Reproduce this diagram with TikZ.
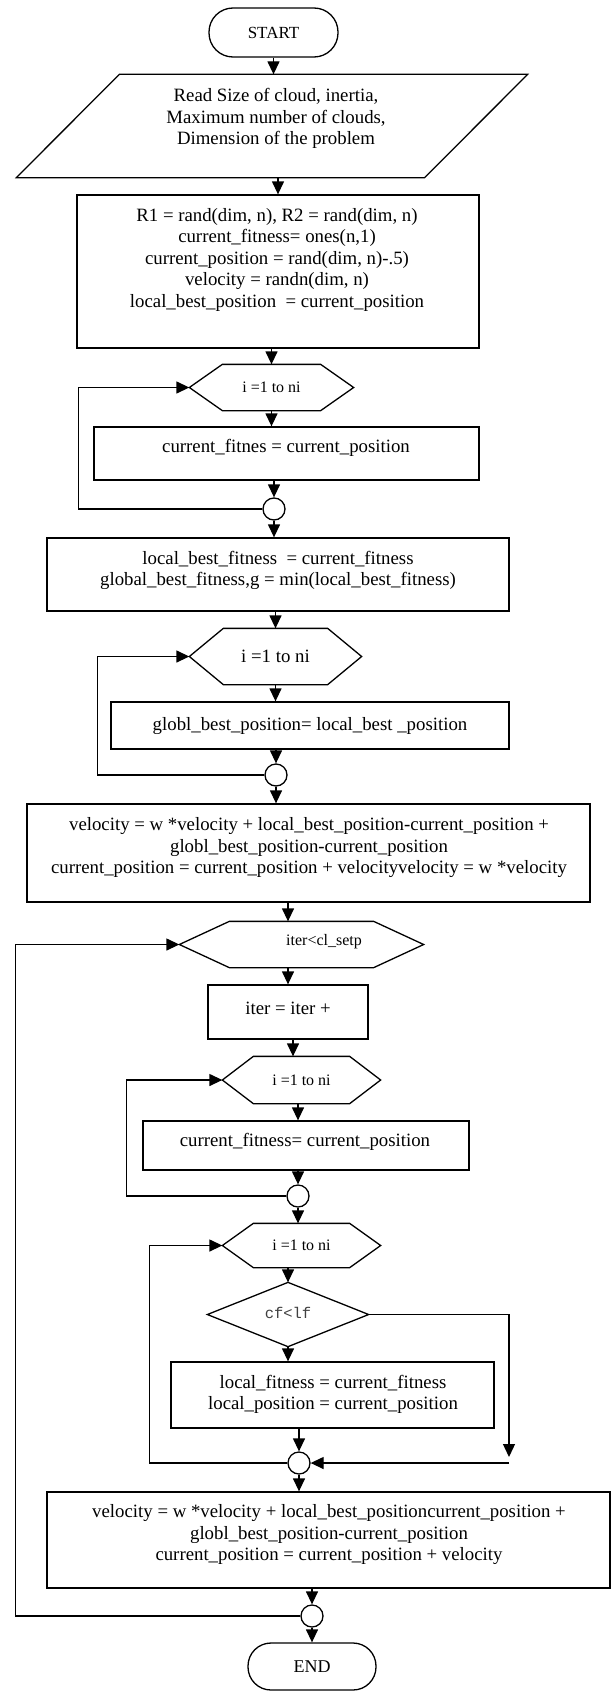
\documentclass[tikz,border=0pt]{standalone}
\usepackage{fontspec}
\setmainfont{Liberation Serif}
\newfontfamily\codefont{Liberation Mono}
\usetikzlibrary{arrows.meta,calc}
\newcommand\hexdraw[2]{\draw (#1.west) -- ([xshift=#2]#1.north west) -- ([xshift=-#2]#1.north east) -- (#1.east) -- ([xshift=-#2]#1.south east) -- ([xshift=#2]#1.south west) -- cycle;}
\begin{document}
\begin{tikzpicture}[x=1pt,y=-1pt,
  line width=1.3pt,
  box/.style={draw, rectangle, inner sep=0pt},
  ghost/.style={inner sep=0pt},
  conn/.style={draw, circle, inner sep=0pt, minimum size=22pt},
  arr/.style={-{Triangle[length=13pt,width=12pt]}},
  txt/.style={font=\fontsize{18.8}{21.5}\selectfont, align=center, inner sep=0pt},
  small/.style={font=\fontsize{16}{19}\selectfont},
]
\useasboundingbox (0,0) rectangle (613,1691);

% start
\node[draw, rounded corners=24pt, minimum width=129pt, minimum height=49pt, inner sep=0pt, font=\fontsize{17}{20}\selectfont] (start) at (273.5,32.5) {START};

% parallelogram
\node[ghost, minimum width=510pt, minimum height=102pt] (para) at (272,126) {};
\draw ([xshift=103pt]para.north west) -- (para.north east) -- ([xshift=-103pt]para.south east) -- (para.south west) -- cycle;
\node[txt] (tp) at (276,118.5) {Read Size of cloud, inertia,\\Maximum number of clouds,\\Dimension of the problem};

% box1
\node[box, minimum width=402pt, minimum height=153pt] (b1) at (278,271.5) {};
\node[txt] (t1) at (277,259.5) {R1 = rand(dim, n), R2 = rand(dim, n)\\current\_fitness= ones(n,1)\\current\_position = rand(dim, n)-.5)\\velocity = randn(dim, n)\\local\_best\_position\ \ = current\_position};

% hex1
\node[ghost, small, minimum width=163pt, minimum height=45pt] (h1) at (271.5,387.5) {i =1 to ni};
\hexdraw{h1}{33pt}

% box2
\node[box, minimum width=385pt, minimum height=53pt] (b2) at (286.5,453.5) {};
\node[txt] (t2) at (286,448) {current\_fitnes = current\_position};

\node[conn] (c1) at (274,509) {};

% box3
\node[box, minimum width=462pt, minimum height=73pt] (b3) at (278,574.5) {};
\node[txt] (t3) at (278,570.5) {local\_best\_fitness\ \ = current\_fitness\\global\_best\_fitness,g = min(local\_best\_fitness)};

% hex2
\node[ghost, txt, minimum width=171pt, minimum height=55pt] (h2) at (275.5,656.5) {i =1 to ni};
\hexdraw{h2}{34pt}

% box4
\node[box, minimum width=398pt, minimum height=47pt] (b4) at (310,725.5) {};
\node[txt] (t4) at (310,726) {globl\_best\_position= local\_best \_position};

\node[conn] (c2) at (276,775) {};

% box5
\node[box, minimum width=563pt, minimum height=98pt] (b5) at (308.5,853) {};
\node[txt] (t5) at (309,847.5) {velocity = w *velocity + local\_best\_position-current\_position +\\globl\_best\_position-current\_position\\current\_position = current\_position + velocityvelocity = w *velocity};

% hex3
\node[ghost, minimum width=243pt, minimum height=45pt] (h3) at (301.5,944.5) {};
\hexdraw{h3}{50pt}
\node[small, inner sep=0pt] (th3) at (324,942) {iter<cl\_setp};

% box6
\node[box, minimum width=160pt, minimum height=54pt] (b6) at (288,1012) {};
\node[txt] (t6) at (288,1008) {iter = iter +};

% hex4
\node[ghost, small, minimum width=157pt, minimum height=46pt] (h4) at (301.5,1080) {i =1 to ni};
\hexdraw{h4}{31pt}

% box7
\node[box, minimum width=326pt, minimum height=49pt] (b7) at (306,1145.5) {};
\node[txt] (t7) at (305,1142) {current\_fitness= current\_position};

\node[conn] (c3) at (298,1196) {};

% hex5
\node[ghost, small, minimum width=157pt, minimum height=43pt] (h5) at (301.5,1245.5) {i =1 to ni};
\hexdraw{h5}{31pt}

% diamond
\node[ghost, minimum width=160pt, minimum height=63pt] (d) at (288,1314.5) {};
\draw (d.west) -- (d.north) -- (d.east) -- (d.south) -- cycle;
\node[inner sep=0pt, font=\codefont\fontsize{15.5}{18}\selectfont, text=black!75] (td) at (288,1313) {cf<lf};

% box8
\node[box, minimum width=323pt, minimum height=66pt] (b8) at (332.5,1395) {};
\node[txt] (t8) at (333,1394.5) {local\_fitness = current\_fitness\\local\_position = current\_position};

\node[conn] (c4) at (299,1463) {};

% box9
\node[box, minimum width=563pt, minimum height=96pt] (b9) at (328.5,1540) {};
\node[txt] (t9) at (329,1534.5) {velocity = w *velocity + local\_best\_positioncurrent\_position +\\globl\_best\_position-current\_position\\current\_position = current\_position + velocity};

\node[conn] (c5) at (312,1616) {};

% end
\node[draw, rounded corners=23pt, minimum width=128pt, minimum height=47pt, inner sep=0pt, font=\fontsize{18}{21}\selectfont] (end) at (312,1666.5) {END};

\coordinate (rc) at (509,1457);

% connectors
\draw[arr] (start.south) -- (start.south |- para.north);
\draw[arr] (b1.north |- para.south) -- (b1.north);
\draw[arr] (h1.north |- b1.south) -- (h1.north);
\draw[arr] (h1.south) -- (h1.south |- b2.north);
\draw[arr] (c1 |- b2.south) -- (c1.north);
\draw[arr] (c1.west) -| ([xshift=-111pt]h1.west) -- (h1.west);
\draw[arr] (c1.south) -- (c1.south |- b3.north);
\draw[arr] (h2.north |- b3.south) -- (h2.north);
\draw[arr] (h2.south) -- (h2.south |- b4.north);
\draw[arr] (c2 |- b4.south) -- (c2.north);
\draw[arr] (c2.west) -| ([xshift=-92pt]h2.west) -- (h2.west);
\draw[arr] (c2.south) -- (c2.south |- b5.north);
\draw[arr] (b5.south -| b6.north) -- (h3.north -| b6.north);
\draw[arr] (b6.north |- h3.south) -- (b6.north);
\draw[arr] ([xshift=5pt]b6.south) -- ([xshift=5pt]b6.south |- h4.north);
\draw[arr] (c3 |- h4.south) -- (c3 |- b7.north);
\draw[arr] (c3 |- b7.south) -- (c3.north);
\draw[arr] (c3.west) -| ([xshift=-96pt]h4.west) -- (h4.west);
\draw[arr] (c3.south) -- (c3.south |- h5.north);
\draw[arr] (d.north |- h5.south) -- (d.north);
\draw[arr] (d.south) -- (d.south |- b8.north);
\draw[arr] (c4 |- b8.south) -- (c4.north);
\draw[arr] (c4.west) -| ([xshift=-73pt]h5.west) -- (h5.west);
\draw[arr] (d.east) -| (rc);
\draw[arr] (rc |- c4.east) -- (c4.east);
\draw[arr] (c4.south) -- (c4.south |- b9.north);
\draw[arr] (c5 |- b9.south) -- (c5.north);
\draw[arr] (c5.west) -| ([xshift=-164pt]h3.west) -- (h3.west);
\draw[arr] (c5.south) -- (end.north);
\end{tikzpicture}
\end{document}
